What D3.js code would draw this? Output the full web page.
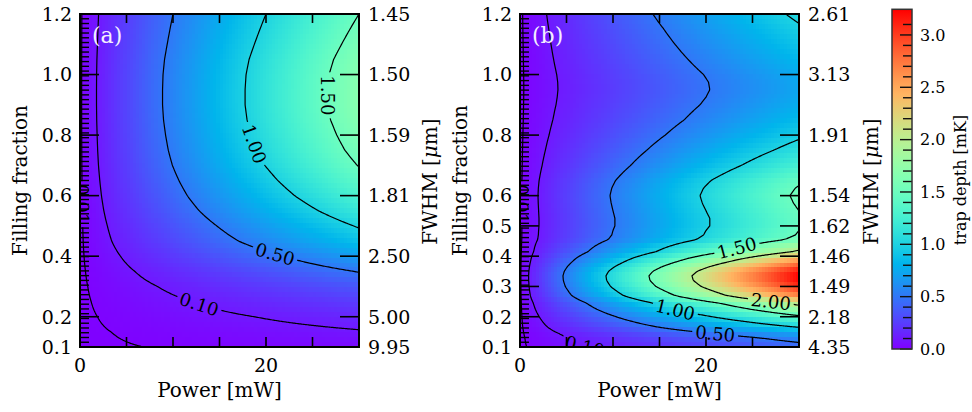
<!DOCTYPE html>
<html><head><meta charset="utf-8">
<script src="https://cdn.jsdelivr.net/npm/d3@7"></script>
<style>body{margin:0;background:#fff}svg{display:block}text{font-family:"DejaVu Serif",serif;fill:#000}</style>
</head><body><svg id="c" width="972" height="412"></svg>
<script>
// ---------------- data ----------------
const powerDomain = [0, 30];
const powerTicks = [0, 5, 10, 15, 20, 25, 30];
const powerTickLabels = [0, 20];
const ffDomain = [0.1, 1.2];

const ffTicksA = [0.1, 0.2, 0.4, 0.6, 0.8, 1.0, 1.2];
const fwhmLabelsA = ["9.95", "5.00", "2.50", "1.81", "1.59", "1.50", "1.45"];
const ffTicksB = [0.1, 0.2, 0.3, 0.4, 0.5, 0.6, 0.8, 1.0, 1.2];
const fwhmLabelsB = ["4.35", "2.18", "1.49", "1.46", "1.62", "1.54", "1.91", "3.13", "2.61"];

// trap depth [mK] at 30 mW versus filling fraction (depth scales with power)
const ffProfileA = [0.10, 0.15, 0.20, 0.25, 0.30, 0.35, 0.40, 0.45, 0.50, 0.55, 0.60, 0.65, 0.70, 0.75, 0.80, 0.85, 0.90, 0.95, 1.00, 1.05, 1.10, 1.15, 1.20];
const depth30A  = [0.044, 0.09, 0.16, 0.25, 0.36, 0.51, 0.69, 0.88, 1.02, 1.17, 1.30, 1.41, 1.51, 1.58, 1.63, 1.67, 1.69, 1.69, 1.68, 1.65, 1.60, 1.55, 1.50];
const ffProfileB = [0.10, 0.115, 0.13, 0.145, 0.165, 0.185, 0.205, 0.225, 0.245, 0.27, 0.30, 0.32, 0.335, 0.35, 0.365, 0.38, 0.395, 0.415, 0.43, 0.44, 0.455, 0.47, 0.485, 0.50, 0.525, 0.55, 0.575, 0.60, 0.625, 0.65, 0.70, 0.75, 0.80, 0.85, 0.90, 0.925, 0.95, 0.975, 1.00, 1.05, 1.10, 1.15, 1.20];
const depth30B  = [0.42, 0.50, 0.58, 0.72, 1.00, 1.25, 1.52, 1.82, 2.10, 2.70, 3.08, 3.22, 3.245, 3.15, 2.95, 2.70, 2.45, 2.05, 1.90, 1.78, 1.58, 1.52, 1.50, 1.47, 1.47, 1.50, 1.53, 1.55, 1.52, 1.46, 1.26, 1.10, 0.96, 0.85, 0.775, 0.75, 0.735, 0.74, 0.76, 0.83, 0.90, 0.97, 1.05];

const contourLevels = [0.01, 0.1, 0.5, 1.0, 1.5, 2.0];
const contourLabelsA = [
  {level: 0.01, p: 1.0, ff: 0.57}, {level: 0.1, p: 12.8, ff: 0.24},
  {level: 0.5, p: 21, ff: 0.41}, {level: 1.0, p: 18.5, ff: 0.77}, {level: 1.5, p: 26.3, ff: 0.93}];
const contourLabelsB = [
  {level: 0.01, p: 0.75, ff: 0.57}, {level: 0.1, p: 7.2, ff: 0.12},
  {level: 0.5, p: 21, ff: 0.14}, {level: 1.0, p: 16.7, ff: 0.223},
  {level: 1.5, p: 23.4, ff: 0.422}, {level: 2.0, p: 27, ff: 0.246}];

const colorMax = 3.245;
const colorTicks = [0, 0.5, 1.0, 1.5, 2.0, 2.5, 3.0];

// ---------------- drawing ----------------
const svg = d3.select('#c');
const defs = svg.append('defs');
const Y0 = 14, Y1 = 347;

function rainbow(t) {
  t = Math.max(0, Math.min(1, t));
  const r = Math.min(1, Math.abs(2 * t - 0.5)), g = Math.sin(Math.PI * t), b = Math.cos(Math.PI * t / 2);
  return `rgb(${Math.round(r * 255)},${Math.round(g * 255)},${Math.round(b * 255)})`;
}
const color = d3.scaleSequential(rainbow).domain([0, colorMax]);

function panel(cfg) {
  const xs = d3.scaleLinear().domain(powerDomain).range([cfg.x0, cfg.x1]);
  const ys = d3.scaleLinear().domain(ffDomain).range([Y1, Y0]);
  const prof = d3.scaleLinear().domain(cfg.ff).range(cfg.d30).clamp(true);
  const pMax = powerDomain[1], ffSpan = ffDomain[1] - ffDomain[0];
  const depth = (p, f) => prof(f) * p / pMax;
  const g = svg.append('g');

  defs.append('clipPath').attr('id', 'clip' + cfg.id)
    .append('rect').attr('x', cfg.x0).attr('y', Y0).attr('width', cfg.x1 - cfg.x0).attr('height', Y1 - Y0);

  // heatmap
  const nC = 90, nR = 67;
  const cv = document.createElement('canvas'); cv.width = nC; cv.height = nR;
  const ctx = cv.getContext('2d'); const img = ctx.createImageData(nC, nR);
  for (let j = 0; j < nR; j++) for (let i = 0; i < nC; i++) {
    const p = (i + 0.5) / nC * pMax, f = ffDomain[1] - (j + 0.5) / nR * ffSpan;
    const c = d3.rgb(color(depth(p, f)));
    const k = (j * nC + i) * 4;
    img.data[k] = c.r; img.data[k + 1] = c.g; img.data[k + 2] = c.b; img.data[k + 3] = 255;
  }
  ctx.putImageData(img, 0, 0);
  g.append('image').attr('href', cv.toDataURL()).attr('x', cfg.x0).attr('y', Y0)
    .attr('width', cfg.x1 - cfg.x0).attr('height', Y1 - Y0)
    .attr('preserveAspectRatio', 'none').style('image-rendering', 'pixelated');

  // contours
  const N = 240, M = 260;
  const vals = new Float64Array(N * M);
  for (let gy = 0; gy < M; gy++) for (let gx = 0; gx < N; gx++) {
    vals[gy * N + gx] = depth((gx + 0.5) / N * pMax, ffDomain[1] - (gy + 0.5) / M * ffSpan);
  }
  const conts = d3.contours().size([N, M]).thresholds(contourLevels)(vals);
  const toPx = (gx, gy) => [xs(gx / N * pMax), ys(ffDomain[1] - gy / M * ffSpan)];
  const path = d3.geoPath(d3.geoTransform({point(x, y) { const q = toPx(x, y); this.stream.point(q[0], q[1]); }}));

  // label placement
  const labels = [];
  cfg.labels.forEach(L => {
    const c = conts.find(c => Math.abs(c.value - L.level) < 1e-9);
    if (!c) return;
    const tx = xs(L.p), ty = ys(L.ff);
    let best = null, bd = Infinity;
    c.coordinates.forEach(poly => poly.forEach(ring => {
      ring.forEach((pt, k) => {
        if (pt[0] <= 0.01 || pt[0] >= N - 0.01 || pt[1] <= 0.01 || pt[1] >= M - 0.01) return;
        const q = toPx(pt[0], pt[1]);
        const d = (q[0] - tx) ** 2 + (q[1] - ty) ** 2;
        if (d < bd) { bd = d; best = {ring, k, q}; }
      });
    }));
    if (!best) return;
    const n = best.ring.length - 1, s = 4;
    const a = toPx(...best.ring[(best.k - s + n) % n]), b = toPx(...best.ring[(best.k + s) % n]);
    let ang = Math.atan2(b[1] - a[1], b[0] - a[0]) * 180 / Math.PI;
    if (ang > 90) ang -= 180; if (ang <= -90) ang += 180;
    labels.push({text: d3.format('.2f')(L.level), x: best.q[0], y: best.q[1], ang});
  });

  const mask = defs.append('mask').attr('id', 'mask' + cfg.id).attr('maskUnits', 'userSpaceOnUse')
    .attr('x', 0).attr('y', 0).attr('width', 972).attr('height', 412);
  mask.append('rect').attr('width', 972).attr('height', 412).attr('fill', '#fff');

  const cg = g.append('g').attr('clip-path', `url(#clip${cfg.id})`);
  cg.append('g').attr('mask', `url(#mask${cfg.id})`)
    .selectAll('path').data(conts).join('path')
    .attr('d', d => path(d)).attr('fill', 'none').attr('stroke', '#000').attr('stroke-width', 1.2);

  const lt = cg.append('g').selectAll('text').data(labels).join('text')
    .attr('transform', d => `translate(${d.x},${d.y}) rotate(${d.ang})`)
    .attr('text-anchor', 'middle').attr('dy', '0.36em').style('font-size', '18px').text(d => d.text);
  lt.each(function (d) {
    const w = this.getComputedTextLength() + 6;
    mask.append('rect').attr('x', -w / 2).attr('y', -8).attr('width', w).attr('height', 16)
      .attr('fill', '#000').attr('transform', `translate(${d.x},${d.y}) rotate(${d.ang})`);
  });

  // ticks
  const tk = g.append('g').attr('stroke', '#000').attr('stroke-width', 1.6);
  powerTicks.forEach(p => {
    tk.append('line').attr('x1', xs(p)).attr('x2', xs(p)).attr('y1', Y1).attr('y2', Y1 - 10);
    tk.append('line').attr('x1', xs(p)).attr('x2', xs(p)).attr('y1', Y0).attr('y2', Y0 + 9);
  });
  d3.range(71).forEach(k => {
    const yy = ys(ffDomain[0] + k * ffSpan / 70);
    tk.append('line').attr('x1', cfg.x0).attr('x2', cfg.x0 + 9).attr('y1', yy).attr('y2', yy).attr('stroke-width', 1.4);
  });
  cfg.ffTicks.forEach(f => {
    tk.append('line').attr('x1', cfg.x0).attr('x2', cfg.x0 + 19).attr('y1', ys(f)).attr('y2', ys(f));
    tk.append('line').attr('x1', cfg.x1).attr('x2', cfg.x1 - 19).attr('y1', ys(f)).attr('y2', ys(f));
  });

  // tick labels
  g.selectAll('.xl').data(powerTickLabels).join('text').attr('x', d => xs(d)).attr('y', 372)
    .attr('text-anchor', 'middle').style('font-size', '19px').text(d => d);
  g.selectAll('.yl').data(cfg.ffTicks).join('text').attr('x', cfg.x0 - 8).attr('y', d => ys(d))
    .attr('dy', '0.36em').attr('text-anchor', 'end').style('font-size', '19px').text(d => d3.format('.1f')(d));
  g.selectAll('.rl').data(cfg.ffTicks).join('text').attr('x', cfg.x1 + 9).attr('y', d => ys(d))
    .attr('dy', '0.36em').attr('text-anchor', 'start').style('font-size', '19px').text((d, i) => cfg.fwhm[i]);

  // axis labels
  g.append('text').attr('x', (cfg.x0 + cfg.x1) / 2).attr('y', 397).attr('text-anchor', 'middle')
    .style('font-size', '20px').text('Power [mW]');
  g.append('text').attr('transform', `translate(${cfg.yLabX},${(Y0 + Y1) / 2}) rotate(-90)`)
    .attr('text-anchor', 'middle').style('font-size', '20px').text('Filling fraction');
  const fw = g.append('text').attr('transform', `translate(${cfg.fwLabX},${(Y0 + Y1) / 2 + 1}) rotate(-90)`)
    .attr('text-anchor', 'middle').style('font-size', '20px');
  fw.append('tspan').text('FWHM [');
  fw.append('tspan').style('font-style', 'italic').text('μ');
  fw.append('tspan').text('m]');

  g.append('text').attr('x', cfg.x0 + 12).attr('y', 43).style('font-size', '22px')
    .style('fill', '#f4eeff').text(cfg.tag);

  // frame
  g.append('rect').attr('x', cfg.x0).attr('y', Y0).attr('width', cfg.x1 - cfg.x0).attr('height', Y1 - Y0)
    .attr('fill', 'none').attr('stroke', '#000').attr('stroke-width', 2);
}

panel({id: 'A', x0: 80, x1: 359, ff: ffProfileA, d30: depth30A, ffTicks: ffTicksA, fwhm: fwhmLabelsA,
  labels: contourLabelsA, tag: '(a)', yLabX: 27, fwLabX: 437});
panel({id: 'B', x0: 520, x1: 799, ff: ffProfileB, d30: depth30B, ffTicks: ffTicksB, fwhm: fwhmLabelsB,
  labels: contourLabelsB, tag: '(b)', yLabX: 467, fwLabX: 878});

// colorbar
const cbX = 892, cbW = 20, cbTop = 9.3, cbBot = 349;
const cy = d3.scaleLinear().domain([0, colorMax]).range([cbBot, cbTop]);
const grad = defs.append('linearGradient').attr('id', 'cbg').attr('x1', 0).attr('y1', 1).attr('x2', 0).attr('y2', 0);
d3.range(0, 1.0001, 0.025).forEach(t => grad.append('stop').attr('offset', t).attr('stop-color', color(t * colorMax)));
svg.append('rect').attr('x', cbX).attr('y', cbTop).attr('width', cbW).attr('height', cbBot - cbTop).attr('fill', 'url(#cbg)');
const cbt = svg.append('g').attr('stroke', '#111').attr('stroke-width', 1.4);
d3.range(0, 32).map(k => k / 10).filter(v => v <= colorMax).forEach(v => {
  const major = Math.abs(v * 2 - Math.round(v * 2)) < 1e-6;
  cbt.append('line').attr('x1', cbX + cbW).attr('x2', cbX + cbW - (major ? 12 : 9)).attr('y1', cy(v)).attr('y2', cy(v));
});
svg.append('rect').attr('x', cbX).attr('y', cbTop).attr('width', cbW).attr('height', cbBot - cbTop)
  .attr('fill', 'none').attr('stroke', '#333').attr('stroke-width', 1.5);
svg.selectAll('.cl').data(colorTicks).join('text').attr('x', 920).attr('y', d => cy(d)).attr('dy', '0.36em')
  .style('font-size', '16px').text(d => d3.format('.1f')(d));
svg.append('text').attr('transform', `translate(966,180) rotate(-90)`).attr('text-anchor', 'middle')
  .style('font-size', '16px').text('trap depth [mK]');
</script></body></html>
